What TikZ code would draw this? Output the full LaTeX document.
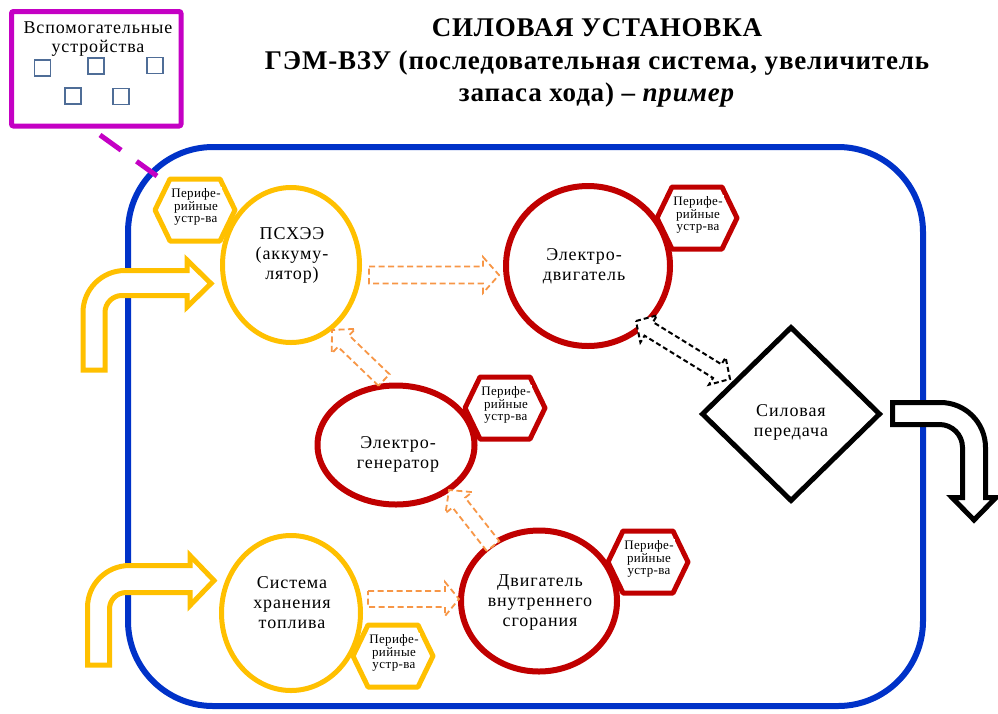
\documentclass[tikz,border=0pt]{standalone}
\usepackage{fontspec}
\setmainfont{Liberation Serif}
\newfontfamily\spacedfont{Liberation Serif}[LetterSpace=5]
\newfontfamily\smallspaced{Liberation Serif}[LetterSpace=3]
\newfontfamily\titlefont{Liberation Serif}[LetterSpace=3]
\usetikzlibrary{shapes.geometric,calc}
\definecolor{cyel}{HTML}{FFC000}
\definecolor{cred}{HTML}{C00000}
\definecolor{cblue}{HTML}{0032C8}
\definecolor{cmag}{HTML}{C400C4}
\definecolor{corg}{HTML}{F79646}
\definecolor{csq}{HTML}{4F6D97}
\newcommand\perhex[4]{%
  \draw[hexline, draw=#4] ($(#2,#3)+(-40,0)$) -- ++(15,-31) -- ++(50,0) -- ++(15,31) -- ++(-15,31) -- ++(-50,0) -- cycle;
  \node[ptxt] (#1) at ($(#2,#3)+(1,-3)$) {Перифе-\\рийные\\устр-ва};}
\newcommand\blockarr[6]{%
  \coordinate (ba-base) at ($(#3)!#6!(#2)$);
  \draw[#1] ($(#2)!#4!90:(#3)$) -- ($(ba-base)!#4!90:(#3)$) -- ($(ba-base)!#5!90:(#3)$) -- (#3)
    -- ($(ba-base)!#5!-90:(#3)$) -- ($(ba-base)!#4!-90:(#3)$) -- ($(#2)!#4!-90:(#3)$) -- cycle;}
\newcommand\dblarr[6]{%
  \coordinate (da-a) at ($(#2)!#6!(#3)$);
  \coordinate (da-b) at ($(#3)!#6!(#2)$);
  \draw[#1] (#2) -- ($(da-a)!#5!90:(#3)$) -- ($(da-a)!#4!90:(#3)$) -- ($(da-b)!#4!90:(#3)$)
    -- ($(da-b)!#5!90:(#3)$) -- (#3) -- ($(da-b)!#5!-90:(#3)$) -- ($(da-b)!#4!-90:(#3)$)
    -- ($(da-a)!#4!-90:(#3)$) -- ($(da-a)!#5!-90:(#3)$) -- cycle;}
\begin{document}
\begin{tikzpicture}[x=1pt,y=-1pt,
  hexline/.style={line width=5pt, fill=white, line join=round},
  ptxt/.style={align=center, fill=white, inner sep=1.5pt, font=\smallspaced\fontsize{13}{12.8}\selectfont},
  txt/.style={align=center, inner sep=0pt, font=\spacedfont\fontsize{18}{20}\selectfont},
  yring/.style={ellipse, draw=cyel, line width=5pt, inner sep=0pt, fill=white},
  rring/.style={ellipse, draw=cred, line width=6pt, inner sep=0pt, fill=white},
  oarr/.style={draw=corg, line width=1.8pt, dash pattern=on 6pt off 3.5pt, fill=white, line join=miter},
  karr/.style={draw=black, line width=2pt, dash pattern=on 5pt off 3pt, fill=white},
  ybent/.style={draw=cyel, line width=5pt, fill=white, line join=miter},
  sq/.style={draw=csq, line width=1.8pt, minimum width=16pt, minimum height=16pt, inner sep=0pt}]
\useasboundingbox (0,0) rectangle (998,713);
% outer blue frame
\draw[cblue, line width=6pt, rounded corners=85pt] (128,147) rectangle (923,706);
% auxiliary box
\node[draw=cmag, line width=5pt, rounded corners=2pt, minimum width=169.5pt, minimum height=114.5pt, inner sep=0pt] (aux) at (96.25,68.75) {};
\node[align=center, inner sep=0pt, font=\spacedfont\fontsize{18}{19}\selectfont] (auxt) at (98,39) {Вспомогательные\\устройства};
\node[sq] (s1) at (42.5,68) {};
\node[sq] (s2) at (96,66) {};
\node[sq] (s3) at (155,65.5) {};
\node[sq] (s4) at (73,96) {};
\node[sq] (s5) at (121,96.5) {};
\coordinate (auxl1) at (100,135);
\coordinate (auxl2) at (157,176);
\draw[cmag, line width=5pt, dash pattern=on 26pt off 19pt] (auxl1) -- (auxl2);
% title
\node[align=center, inner sep=0pt, font=\titlefont\bfseries\fontsize{27}{32.5}\selectfont] (title) at (597,63)
  {СИЛОВАЯ УСТАНОВКА\\ГЭМ-ВЗУ (последовательная система, увеличитель\\запаса хода) – \textit{пример}};
% yellow input arrows
\draw[ybent] (83,370) -- (83,312.5) arc[start angle=180,end angle=270,radius=42] -- (187,270.5) -- (187,260)
  -- (211,283.5) -- (187,307) -- (187,295.5) -- (122,295.5) arc[start angle=270,end angle=180,radius=17] -- (105,370) -- cycle;
\draw[ybent] (87.5,665) -- (87.5,607.5) arc[start angle=180,end angle=270,radius=42] -- (190,565.5) -- (190,555.5)
  -- (214,580.5) -- (190,605.5) -- (190,592.5) -- (126,592.5) arc[start angle=270,end angle=180,radius=16.5] -- (109.5,665) -- cycle;
% black output arrow
\draw[draw=black, line width=5pt, fill=white, line join=miter] (892.5,402.5) -- (940.5,402.5)
  arc[start angle=270,end angle=360,radius=45] -- (985.5,497.5) -- (996,497.5) -- (974,520) -- (952,497.5) -- (962.5,497.5)
  -- (962.5,447.5) arc[start angle=0,end angle=-90,radius=23] -- (892.5,424.5) -- cycle;
% main blocks
\node[yring, minimum width=137pt, minimum height=155pt] (psh) at (291,265) {};
\node[txt] (psht) at (292,255) {ПСХЭЭ\\(аккуму-\\лятор)};
\node[rring, minimum width=164pt, minimum height=160pt] (ed) at (588,266) {};
\node[txt] (edt) at (584,266) {Электро-\\двигатель};
\node[rring, minimum width=157pt, minimum height=119pt] (eg) at (396,445) {};
\node[txt] (egt) at (398,454) {Электро-\\генератор};
\node[yring, minimum width=139pt, minimum height=155pt] (fuel) at (291,613) {};
\node[txt] (fuelt) at (292,603) {Система\\хранения\\топлива};
\node[rring, minimum width=156pt, minimum height=141pt] (ice) at (539,601) {};
\node[txt] (icet) at (540,603) {Двигатель\\внутреннего\\сгорания};
\node[diamond, draw=black, line width=5pt, minimum width=179pt, minimum height=175pt, inner sep=0pt, fill=white] (tr) at (791,414) {};
\node[txt] (trt) at (791,422) {Силовая\\передача};
% peripheral hexagons
\perhex{p1}{195}{210}{cyel}
\perhex{p2}{697}{218}{cred}
\perhex{p3}{505}{408}{cred}
\perhex{p4}{648}{562}{cred}
\perhex{p5}{393}{656}{cyel}
% energy flow arrows
\coordinate (f1s) at (369,275); \coordinate (f1e) at (499,275);
\blockarr{oarr}{f1s}{f1e}{8.5pt}{18pt}{16pt}
\coordinate (f2s) at (384,380); \coordinate (f2e) at (332,330);
\blockarr{oarr}{f2s}{f2e}{8pt}{17pt}{16pt}
\coordinate (f3s) at (493,546); \coordinate (f3e) at (449,490);
\blockarr{oarr}{f3s}{f3e}{8pt}{17pt}{16pt}
\coordinate (f4s) at (368,599); \coordinate (f4e) at (459,599);
\blockarr{oarr}{f4s}{f4e}{8pt}{17pt}{14pt}
\coordinate (m1) at (636,321); \coordinate (m2) at (730,379);
\dblarr{karr}{m1}{m2}{8pt}{16pt}{15pt}
\end{tikzpicture}
\end{document}
